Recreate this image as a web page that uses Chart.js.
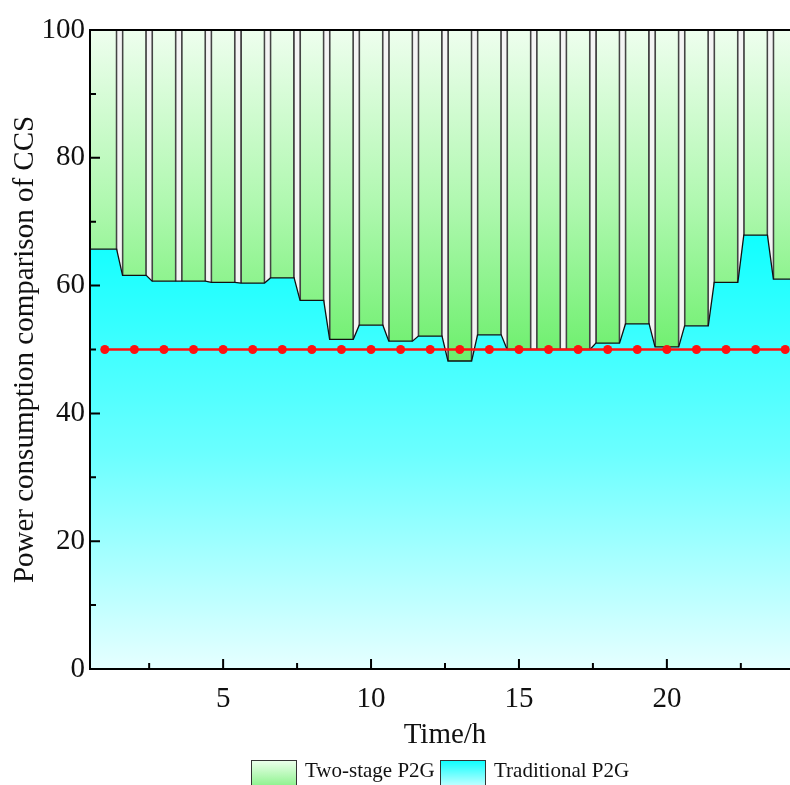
<!DOCTYPE html>
<html>
<head>
<meta charset="utf-8">
<script src="https://cdn.jsdelivr.net/npm/chart.js@4.4.0/dist/chart.umd.min.js"></script>
<style>
  html, body { margin: 0; padding: 0; background: #fff; overflow: hidden; }
  #wrap { position: relative; width: 810px; height: 785px; }
  .lg-box { position: absolute; top: 760px; width: 46px; height: 32px; border: 1.5px solid #333; box-sizing: border-box; }
  .lg-text { position: absolute; top: 758px; font-family: "Liberation Serif", serif; font-size: 21px; color: #111; white-space: nowrap; }
</style>
</head>
<body>
<div id="wrap">
  <canvas id="myChart" width="810" height="785"></canvas>
  <div class="lg-box" style="left:251px; background:linear-gradient(#eaffea, #7cf07c);"></div>
  <div class="lg-text" id="lg1" style="left:305px;"></div>
  <div class="lg-box" style="left:440px; background:linear-gradient(#10ffff, #e6ffff);"></div>
  <div class="lg-text" id="lg2" style="left:494px;"></div>
</div>
<script>
const hours = [1, 2, 3, 4, 5, 6, 7, 8, 9, 10, 11, 12, 13, 14, 15, 16, 17, 18, 19, 20, 21, 22, 23, 24];
const traditionalP2G = [65.7, 61.6, 60.7, 60.7, 60.5, 60.4, 61.2, 57.7, 51.6, 53.8, 51.3, 52.1,
                        48.2, 52.3, 50.0, 50.0, 50.0, 51.0, 54.0, 50.4, 53.7, 60.5, 67.9, 61.0];
const redLine = [50, 50, 50, 50, 50, 50, 50, 50, 50, 50, 50, 50,
                 50, 50, 50, 50, 50, 50, 50, 50, 50, 50, 50, 50];
const xTicks = [5, 10, 15, 20];
const seriesNames = ['Two-stage P2G', 'Traditional P2G'];

document.getElementById('lg1').textContent = seriesNames[0];
document.getElementById('lg2').textContent = seriesNames[1];

const xMin = hours[0] - 0.5;
const xMax = hours[hours.length - 1] + 0.5;
const half = 0.4; // flat part of each hour column

// step outline: flat over each column, sloped across the gaps
function stepPoints(values) {
  const pts = [];
  values.forEach((v, i) => {
    pts.push({ x: i === 0 ? xMin : hours[i] - half, y: v });
    pts.push({ x: i === values.length - 1 ? xMax : hours[i] + half, y: v });
  });
  return pts;
}

function vGradient(chart, topVal, botVal, colors) {
  const { ctx, chartArea, scales } = chart;
  if (!chartArea) return colors[colors.length - 1];
  const g = ctx.createLinearGradient(0, scales.y.getPixelForValue(topVal), 0, scales.y.getPixelForValue(botVal));
  colors.forEach((c, i) => g.addColorStop(i / (colors.length - 1), c));
  return g;
}

const frameTicks = {
  id: 'frameTicks',
  afterDatasetsDraw(chart) {
    const { ctx, chartArea: a, scales: { x, y } } = chart;
    ctx.save();
    ctx.strokeStyle = '#000';
    ctx.lineWidth = 2;
    ctx.strokeRect(a.left, a.top, a.right - a.left, a.bottom - a.top);
    ctx.beginPath();
    for (let v = 0; v <= 100; v += 10) {
      const py = y.getPixelForValue(v);
      ctx.moveTo(a.left, py);
      ctx.lineTo(a.left + (v % 20 === 0 ? 10 : 6), py);
    }
    for (let v = 2.5; v < xMax; v += 2.5) {
      const px = x.getPixelForValue(v);
      ctx.moveTo(px, a.bottom);
      ctx.lineTo(px, a.bottom - (v % 5 === 0 ? 10 : 6));
    }
    ctx.stroke();
    ctx.restore();
  }
};

const ctx = document.getElementById('myChart');
new Chart(ctx, {
  type: 'line',
  data: {
    datasets: [{
      label: 'red',
      data: hours.map((h, i) => ({ x: h, y: redLine[i] })),
      borderColor: '#ff1010',
      borderWidth: 2.5,
      pointRadius: 4.5,
      pointBackgroundColor: '#ff1010',
      pointBorderWidth: 0,
      fill: false,
      order: 0
    },
    {
      label: seriesNames[1],
      data: stepPoints(traditionalP2G),
      borderColor: '#111',
      borderWidth: 1.3,
      pointRadius: 0,
      fill: 'origin',
      backgroundColor: (c) => vGradient(c.chart, 68, 0, ['#10ffff', '#6affff', '#e6ffff']),
      order: 1
    },
    {
      type: 'bar',
      label: 'gaps',
      data: hours.slice(1).map(h => ({ x: h - 0.5, y: 100 })),
      backgroundColor: '#f4f4f4',
      borderColor: '#444',
      borderWidth: { left: 1.8, right: 1.8, top: 0, bottom: 0 },
      borderSkipped: false,
      barThickness: 7.5,
      order: 2
    },
    {
      label: seriesNames[0],
      data: stepPoints(traditionalP2G),
      borderWidth: 0,
      pointRadius: 0,
      fill: 'end',
      backgroundColor: (c) => vGradient(c.chart, 100, 46, ['#eefeee', '#b0f8b0', '#66ee66']),
      order: 3
    }]
  },
  options: {
    responsive: false,
    animation: false,
    layout: { padding: { top: 30, right: 10, bottom: 30, left: 0 } },
    plugins: { legend: { display: false }, tooltip: { enabled: false } },
    scales: {
      x: {
        type: 'linear',
        min: xMin,
        max: xMax,
        offset: false,
        grid: { display: false, drawTicks: false },
        border: { display: false },
        afterBuildTicks: (s) => { s.ticks = xTicks.map(v => ({ value: v })); },
        afterFit: (s) => { s.height = 86; },
        ticks: {
          padding: 13,
          color: '#111',
          maxRotation: 0,
          font: { family: 'Liberation Serif', size: 29 }
        },
        title: {
          display: true,
          text: 'Time/h',
          color: '#111',
          padding: { top: 0, bottom: 2 },
          font: { family: 'Liberation Serif', size: 29 }
        }
      },
      y: {
        min: 0,
        max: 100,
        grid: { display: false, drawTicks: false },
        border: { display: false },
        afterFit: (s) => { s.width = 90; },
        ticks: {
          stepSize: 20,
          padding: 5,
          color: '#111',
          font: { family: 'Liberation Serif', size: 29 }
        },
        title: {
          display: true,
          text: 'Power consumption comparison of CCS',
          color: '#111',
          padding: { top: 8, bottom: 0 },
          font: { family: 'Liberation Serif', size: 29 }
        }
      }
    }
  },
  plugins: [frameTicks]
});
</script>
</body>
</html>
